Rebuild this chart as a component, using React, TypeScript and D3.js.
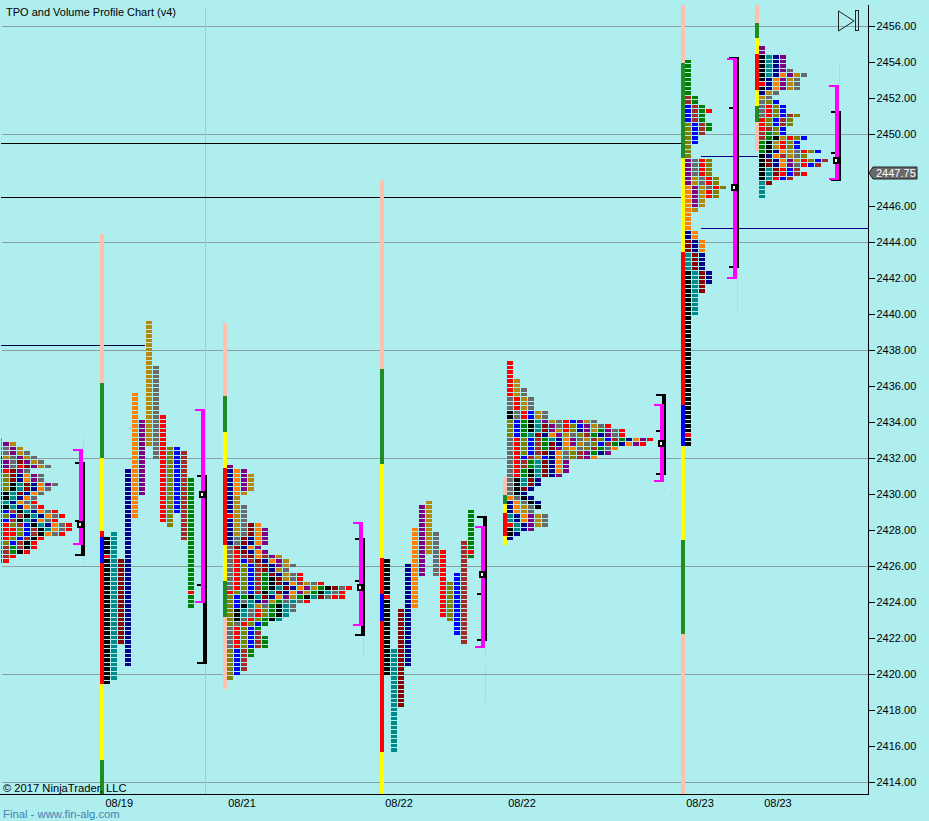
import React, { useEffect, useRef } from "react";
import * as d3 from "d3";

const WIDTH = 929;
const HEIGHT = 821;
const TICK = 0.25; // one row of a profile

const COLORS: Record<string, string> = {
  k: "#000000", t: "#008b8b", d: "#8b0000", n: "#00008b", o: "#ff8000",
  p: "#800080", g: "#b8860b", y: "#696969", r: "#ff0000", l: "#808000",
  b: "#0000ff", w: "#a52a2a", v: "#008000",
  F: "#228b22", Y: "#ffff00", R: "#ff0000", B: "#0000ff", S: "#ffc0ad",
};

// profiles read row by row: first price, then one letter per period
const rowsA = "g gpg yypg yypgy ngypgy ppydpgy ppyrdpgy rrdpy lldnopy lldnopy llktdnopy llktdnoy kktdnoy kktnoy ttnoyr kktnoyr bbwktnoyr llbwktnoyr bbwktnoyr rrlwbktnoyr rrrlbwktoyr rrrlbwkoyr rrlbwkr llbwkr wwvwkr wwvkr wwr rr".split(" ");
const rowsC = "p nop nopg nopg nopg nopg nog ng ng ngy ngy rgy ngy ngydo ngydop ngydop nydnop nydnop ydnop yrdnop yrwdowpg yrbwdnopg yrlbwdnpgy yrlbwdngy yrlbwvdngyr yrlbwvkdgyr yrlbwvkdnowgyr yrlbwvktdnopgvkdyr rlybwktdnopgvktyr lbvktdnopgvktdyrr lbytnpgvytyr lbktgyvkty lktyrlvkty lktyrlvkt lkyrlvkt lyrlbv yrlbv yrlbw yrlbwv yrlbwv yrlbwv lbwv lbwv lbw lbw lbw lb l".split(" ");
const rowsE = "r r r r rg rg rgy rgy yrgy yrgy yrgy kyrbgy kyrbgy lbvktpgyrbpgy lbvktdpyrlbpgyr lbvktdpgrlnpgvpyr lbvtdnopgylwvnpyr yrlbwvtnopygwlbwvnopr yrlbwvdnopgylbwvnopr yrlbwvdpgoylwvyo yrlbwdnoylwpvnp yrbwgbnoylwpo yrwvtdnop yrwvtdnop yrvktdnop yrvktdnp yktdn yktdn ykdn ykn oykn noykn nogyk nogy tnopgy tnopgy rtnpgy ktnp kn n".split(" ");
const rowsF = "v v v v v v v v wv wv bwv bwvr bwv bwv lbwv lbwv lbw lb lb l l l pyrl pyrl pyrl pyrl pgyrl pgyrl opgyrl opgrl opgrl opg opg og o o o o no no dno dno dno tdn tdn tdn tdn ktdn ktdn ktdn ktd ktd kt kt kt kt kt k k k k k k k k k k k k k k k k k k k k k k k k k k r k k".split(" ");
const rowsG = "p p ktnp ktnp ktnp ktnpy ktnopgy knopgy rnopgy knopgy ngy gy ylb yrlb yrlb yrlbwl rlbwl rlbwl rwlb wvlb wvkgrlb vkgrlb vkgrlb vknogyrlb knowgyl kdnopgrlbw kdnopyrbw ktdrbw ktdrbwr ktrbw td t t t".split(" ");

// profiles read column by column: period, high, low, single cells of another colour
const colsB: [string, number, number, number?][] = [
  ["k", 2427.5, 2419.5, 2426.5], ["t", 2427.75, 2419.75], ["d", 2426.25, 2421.75],
  ["n", 2431.25, 2420.5], ["o", 2435.5, 2428.75], ["p", 2434, 2430],
  ["g", 2439.5, 2432.75], ["y", 2437, 2432], ["r", 2434.25, 2428.5],
  ["l", 2432.5, 2428.25], ["b", 2432.5, 2429], ["w", 2432.25, 2427.5],
  ["v", 2430.75, 2423.75, 2424.5],
];
const colsD: [string, number, number, number?][] = [
  ["k", 2426.25, 2420, 2424.25], ["t", 2421.25, 2415.75], ["d", 2423.5, 2418.25],
  ["n", 2426, 2420.5], ["o", 2428, 2423.75], ["p", 2429.25, 2425.5],
  ["g", 2429.5, 2426.75], ["y", 2427.75, 2425.5], ["r", 2426.75, 2423.25],
  ["l", 2425, 2423], ["b", 2425.5, 2422.25], ["w", 2427.25, 2421.75],
  ["v", 2429, 2426.5, 2426.75],
];

// tall session bars: colour, high, low
const barB: [string, number, number][] = [["S", 2444.4, 2436.15], ["F", 2436.15, 2432], ["Y", 2432, 2427.9], ["R", 2427.9, 2427.6], ["B", 2427.6, 2426.15], ["R", 2426.15, 2419.4], ["Y", 2419.4, 2415.2], ["F", 2415.2, 2413]];
const barC: [string, number, number][] = [["S", 2439.45, 2435.4], ["F", 2435.4, 2433.4], ["Y", 2433.4, 2431.4], ["R", 2431.4, 2427.15], ["Y", 2427.15, 2425.15], ["F", 2425.15, 2423.15], ["S", 2423.15, 2419.15]];
const barD: [string, number, number][] = [["S", 2447.4, 2436.9], ["F", 2436.9, 2431.65], ["Y", 2431.65, 2426.4], ["R", 2426.4, 2424.4], ["B", 2424.4, 2422.9], ["R", 2422.9, 2415.65], ["Y", 2415.65, 2413]];
const barE: [string, number, number][] = [["S", 2430.9, 2429.9], ["F", 2429.9, 2429.4], ["Y", 2429.4, 2428.9], ["R", 2428.9, 2427.65], ["Y", 2427.65, 2427.15]];
const barF: [string, number, number][] = [["S", 2457.15, 2453.9], ["F", 2453.9, 2448.65], ["Y", 2448.65, 2443.4], ["R", 2443.4, 2434.9], ["B", 2434.9, 2432.65], ["Y", 2432.65, 2427.4], ["F", 2427.4, 2422.2], ["S", 2422.2, 2413]];
const barG: [string, number, number][] = [["S", 2457.15, 2456.15], ["F", 2456.15, 2455.3], ["Y", 2455.3, 2454.4], ["R", 2454.4, 2452.4], ["Y", 2452.4, 2451.55], ["F", 2451.55, 2450.65], ["S", 2450.65, 2449]];

// slot = one profile column on the time axis
const sessions = [
  { slot: -1.143, top: 2433, rows: rowsA, bar: [] as [string, number, number][] },
  { slot: 14.286, cols: colsB, bar: barB },
  { slot: 31.857, top: 2431.5, rows: rowsC, bar: barC },
  { slot: 54.286, cols: colsD, bar: barD },
  { slot: 71.857, top: 2437.25, rows: rowsE, bar: barE },
  { slot: 97.286, top: 2454, rows: rowsF, bar: barF },
  { slot: 107.857, top: 2454.75, rows: rowsG, bar: barG },
];

// value area brackets: slot, pink high/low, black high/low, middle tick, point of control, faint wicks
const brackets = [
  { slot: 11.286, hi: 2432.45, lo: 2427.15, bHi: 2431.7, bLo: 2426.6, mid: 2428.45, poc: 2428.3, wicks: [[2433.1, 2432.15], [2426.45, 2426.15]] },
  { slot: 28.714, hi: 2434.7, lo: 2423.9, bHi: 2430.95, bLo: 2420.6, mid: 2424.9, poc: 2430, wicks: [[2425.2, 2424.7]] },
  { slot: 51.286, hi: 2428.4, lo: 2422.65, bHi: 2427.45, bLo: 2422.15, mid: 2425.15, poc: 2424.8, wicks: [[2422, 2420.9]] },
  { slot: 68.714, hi: 2428.2, lo: 2421.4, bHi: 2428.7, bLo: 2421.85, mid: 2424.4, poc: 2425.55, wicks: [[2429.1, 2428.25], [2421.4, 2421], [2420.35, 2418.4]] },
  { slot: 94.286, hi: 2434.95, lo: 2430.65, bHi: 2435.45, bLo: 2431.1, mid: 2433.45, poc: 2432.8, wicks: [[2430.35, 2430.2]] },
  { slot: 104.714, hi: 2454.2, lo: 2441.9, bHi: 2454.2, bLo: 2442.6, mid: 2451.4, poc: 2447.05, wicks: [[2442.6, 2440.1]] },
  { slot: 119.286, hi: 2452.7, lo: 2447.4, bHi: 2451.2, bLo: 2447.4, mid: 2448.9, poc: 2448.55, wicks: [[2453.9, 2452.7]] },
];

// horizontal level lines: price, from slot, to slot, colour
const levels: [number, number, number, string][] = [
  [2449.5, 0, 97.57, "#000000"],
  [2446.45, 0, 97.57, "#000000"],
  [2438.25, 0, 20.71, "#000040"],
  [2448.75, 100.14, 108.3, "#00008b"],
  [2444.75, 100.14, 124, "#00008b"],
];

const dateLabels = ["08/19", "08/21", "08/22", "08/22", "08/23", "08/23"];
const dateSlots = [17.04, 34.57, 57, 74.57, 100, 111.14];
const lastPrice = 2447.75;
// 2448 sits under the last price tag, so it has no label
const priceTicks = d3.range(2414, 2457, 2).filter(p => p !== 2448);
const gridPrices = d3.range(2414, 2457, 6);
const gridSlot = 29.29;

const FONT = "'Liberation Sans', Arial, sans-serif";

export default function App() {
  const svgRef = useRef<SVGSVGElement>(null);

  useEffect(() => {
    if (!svgRef.current) return;
    const svg = d3.select(svgRef.current);
    svg.selectAll("*").remove();

    const y = d3.scaleLinear().domain([2456, 2414]).range([25.5, 781.5]);
    const x = d3.scaleLinear().domain([0, 124]).range([0, 868]);
    const px = (s: number) => Math.round(x(s));
    const plotRight = x(124);
    const plotBottom = 794;

    svg.append("defs").append("clipPath").attr("id", "plot")
      .append("rect").attr("x", 1).attr("y", 5).attr("width", plotRight - 1).attr("height", plotBottom - 5);

    const plot = svg.append("g").attr("clip-path", "url(#plot)").attr("shape-rendering", "crispEdges");

    // Grid
    plot.selectAll(".grid").data(gridPrices).enter().append("line")
      .attr("x1", 2).attr("x2", plotRight)
      .attr("y1", d => Math.round(y(d)) + 0.5).attr("y2", d => Math.round(y(d)) + 0.5)
      .attr("stroke", "#88a0a0");
    plot.append("line")
      .attr("x1", px(gridSlot) + 0.5).attr("x2", px(gridSlot) + 0.5)
      .attr("y1", 8).attr("y2", plotBottom)
      .attr("stroke", "#b4c4c4");

    // Level lines
    plot.selectAll(".level").data(levels).enter().append("line")
      .attr("x1", d => px(d[1])).attr("x2", d => px(d[2]))
      .attr("y1", d => Math.round(y(d[0])) + 0.5).attr("y2", d => Math.round(y(d[0])) + 0.5)
      .attr("stroke", d => d[3]);

    // Profile blocks
    const blocks: { col: number; price: number; code: string; slot: number }[] = [];
    sessions.forEach(s => {
      if (s.rows) {
        s.rows.forEach((row, i) => {
          row.split("").forEach((code, col) => {
            blocks.push({ col, price: s.top! - i * TICK, code, slot: s.slot });
          });
        });
      }
      if (s.cols) {
        s.cols.forEach((c, col) => {
          for (let p = c[1]; p >= c[2]; p -= TICK) {
            blocks.push({ col, price: p, code: p === c[3] ? "r" : c[0], slot: s.slot });
          }
        });
      }
    });
    const rowTop = (p: number) => Math.round(y(p) - 1.75);
    plot.selectAll(".block").data(blocks).enter().append("rect")
      .attr("x", d => px(d.slot) + 4 + d.col * 7)
      .attr("y", d => rowTop(d.price))
      .attr("width", 6)
      .attr("height", d => rowTop(d.price - TICK) - rowTop(d.price) - 1)
      .attr("fill", d => COLORS[d.code]);

    // Tall session bars
    sessions.forEach(s => {
      plot.selectAll(null).data(s.bar).enter().append("rect")
        .attr("x", px(s.slot)).attr("width", 4)
        .attr("y", d => Math.round(y(d[1])))
        .attr("height", d => Math.round(y(d[2])) - Math.round(y(d[1])))
        .attr("fill", d => COLORS[d[0]]);
    });

    // Brackets
    brackets.forEach(b => {
      const bx = px(b.slot);
      plot.selectAll(null).data(b.wicks).enter().append("line")
        .attr("x1", bx + 4.5).attr("x2", bx + 4.5)
        .attr("y1", d => y(d[0])).attr("y2", d => y(d[1]))
        .attr("stroke", "#b4cdf2").attr("stroke-dasharray", "3,1");
      plot.append("rect").attr("x", bx + 2).attr("width", 4)
        .attr("y", y(b.bHi)).attr("height", y(b.bLo) - y(b.bHi)).attr("fill", "#000");
      [b.bHi, b.mid, b.bLo].forEach(p => {
        plot.append("rect").attr("x", bx - 4).attr("width", 10)
          .attr("y", Math.round(y(p)) - 1).attr("height", 2).attr("fill", "#000");
      });
      plot.append("rect").attr("x", bx).attr("width", 4)
        .attr("y", y(b.hi)).attr("height", y(b.lo) - y(b.hi)).attr("fill", "#ff00ff");
      [b.hi, b.lo].forEach(p => {
        plot.append("rect").attr("x", bx - 6).attr("width", 10)
          .attr("y", Math.round(y(p)) - (p === b.hi ? 0 : 2)).attr("height", 2).attr("fill", "#ff00ff");
      });
      plot.append("rect").attr("x", bx - 2).attr("width", 6)
        .attr("y", Math.round(y(b.poc)) - 3).attr("height", 7).attr("fill", "#000");
      plot.append("rect").attr("x", bx).attr("width", 2)
        .attr("y", Math.round(y(b.poc)) - 1).attr("height", 3).attr("fill", "#fff");
    });

    // Axes
    const axisY = svg.append("g")
      .attr("transform", `translate(${plotRight + 0.5},0)`)
      .call(d3.axisRight(y).tickValues(priceTicks).tickFormat(d3.format(".2f")).tickSize(6).tickPadding(2));
    axisY.select(".domain").remove();
    axisY.selectAll("text").attr("font-family", FONT).attr("font-size", 11).attr("fill", "#000");
    axisY.selectAll("line").attr("stroke", "#000").attr("shape-rendering", "crispEdges");

    svg.append("line").attr("x1", plotRight + 0.5).attr("x2", plotRight + 0.5).attr("y1", 5).attr("y2", plotBottom + 1)
      .attr("stroke", "#000").attr("shape-rendering", "crispEdges");
    svg.append("line").attr("x1", 0).attr("x2", plotRight).attr("y1", plotBottom + 0.5).attr("y2", plotBottom + 0.5)
      .attr("stroke", "#000").attr("shape-rendering", "crispEdges");

    svg.selectAll(".date").data(dateLabels).enter().append("text")
      .attr("x", (_, i) => x(dateSlots[i])).attr("y", 807)
      .attr("text-anchor", "middle").attr("font-family", FONT).attr("font-size", 11)
      .attr("fill", "#000").text(d => d);

    // Last price tag
    const tagY = y(lastPrice) - 1;
    svg.append("path")
      .attr("d", `M${plotRight + 1},${tagY} L${plotRight + 5},${tagY - 6} H917 V${tagY + 6} H${plotRight + 5} Z`)
      .attr("fill", "#696969").attr("stroke", "#222");
    svg.append("text").attr("x", 876).attr("y", tagY + 4)
      .attr("font-family", FONT).attr("font-size", 11).attr("fill", "#fff")
      .text(d3.format(".2f")(lastPrice));

    // Captions
    svg.append("text").attr("x", 6).attr("y", 16).attr("font-family", FONT).attr("font-size", 11).attr("fill", "#000")
      .text("TPO and Volume Profile Chart (v4)");
    svg.append("text").attr("x", 3).attr("y", 792).attr("font-family", FONT).attr("font-size", 11.2).attr("fill", "#000")
      .text("© 2017 NinjaTrader, LLC");
    svg.append("text").attr("x", 3).attr("y", 818).attr("font-family", FONT).attr("font-size", 11.3).attr("fill", "#4682b4")
      .text("Final - www.fin-alg.com");

    // Play icon
    svg.append("path").attr("d", "M838.5,11 L854,21 L838.5,31 Z").attr("fill", "none").attr("stroke", "#222");
    svg.append("rect").attr("x", 855.5).attr("y", 10.5).attr("width", 3).attr("height", 20).attr("fill", "none").attr("stroke", "#222");
  }, []);

  return (
    <div style={{ position: "absolute", left: 0, top: 0, width: WIDTH, height: HEIGHT, background: "#afeeee" }}>
      <svg ref={svgRef} width={WIDTH} height={HEIGHT} style={{ display: "block" }} />
    </div>
  );
}
